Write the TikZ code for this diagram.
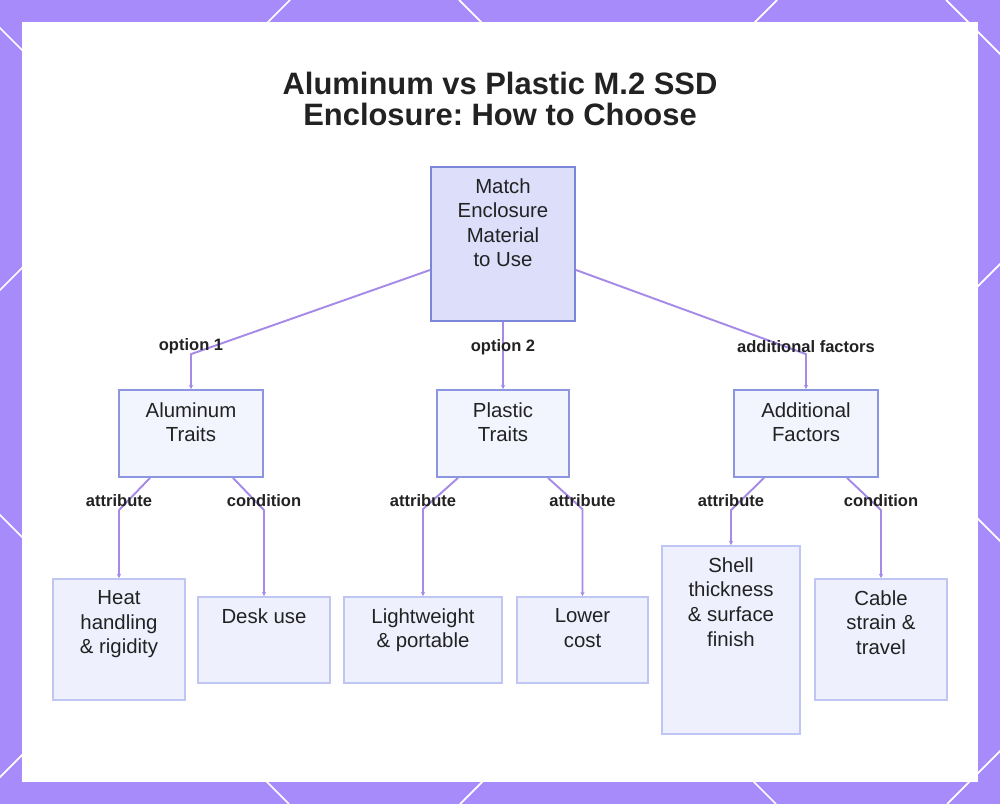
\documentclass[tikz,border=0pt]{standalone}
\usepackage{fontspec}
\setmainfont{Liberation Sans}
\usetikzlibrary{arrows.meta, positioning}
\frenchspacing

\definecolor{frame}{HTML}{A78BFA}
\definecolor{wire}{HTML}{A58AE8}
\definecolor{ink}{HTML}{222222}
\definecolor{topfill}{HTML}{DCDEFA}
\definecolor{topline}{HTML}{7C86D8}
\definecolor{midfill}{HTML}{F3F5FE}
\definecolor{midline}{HTML}{8C96E0}
\definecolor{leaffill}{HTML}{EEF1FD}
\definecolor{leafline}{HTML}{BFC6F3}

\begin{document}
\begin{tikzpicture}[
    x=0.02cm, y=-0.02cm,
    topic/.style={draw=topline, fill=topfill, line width=1.1pt, inner sep=0pt},
    group/.style={draw=midline, fill=midfill, line width=1pt, inner sep=0pt},
    item/.style={draw=leafline, fill=leaffill, line width=1pt, inner sep=0pt},
    txt/.style={align=center, inner sep=0pt, anchor=north, text=ink,
                font=\fontsize{11.6}{14}\selectfont},
    tag/.style={font=\bfseries\fontsize{9.4}{11}\selectfont, text=ink, inner sep=0pt},
    link/.style={draw=wire, line width=1.1pt, -{Stealth[length=2.5pt,width=2.5pt]}},
    grid/.style={draw=white, line width=1pt},
    >=Stealth
  ]
    % frame and panel
    \fill[frame] (0,0) rectangle (1000,804);
    \begin{scope}
      \clip (0,0) rectangle (1000,804);
      \foreach \c in {290,777,1264,1751} \draw[grid] (\c,0) -- (\c-804,804);
      \foreach \c in {-515,-28,459,946} \draw[grid] (\c,0) -- (\c+804,804);
    \end{scope}
    \fill[white] (22,22) rectangle (978,782);

    \node[font=\bfseries\fontsize{17.6}{17.6}\selectfont, text=ink, align=center] (title) at (500,99)
      {Aluminum vs Plastic M.2 SSD\\Enclosure: How to Choose};

    % boxes
    \node[topic, minimum width=2.88cm, minimum height=3.08cm] (root) at (503,244) {};
    \node[group, minimum width=2.88cm, minimum height=1.74cm] (alu) at (191,433.5) {};
    \node[group, minimum width=2.64cm, minimum height=1.74cm] (pla) at (503,433.5) {};
    \node[group, minimum width=2.88cm, minimum height=1.74cm] (add) at (806,433.5) {};
    \node[item, minimum width=2.64cm, minimum height=2.42cm] (heat) at (119,639.5) {};
    \node[item, minimum width=2.64cm, minimum height=1.72cm] (desk) at (264,640) {};
    \node[item, minimum width=3.16cm, minimum height=1.72cm] (light) at (423,640) {};
    \node[item, minimum width=2.62cm, minimum height=1.72cm] (lower) at (582.5,640) {};
    \node[item, minimum width=2.76cm, minimum height=3.76cm] (shell) at (731,640) {};
    \node[item, minimum width=2.64cm, minimum height=2.42cm] (cable) at (881,639.5) {};

    % texts
    \node[txt] (root-t) at ([yshift=-0.24cm]root.north) {Match\\Enclosure\\Material\\to Use};
    \node[txt] (alu-t) at ([yshift=-0.26cm]alu.north) {Aluminum\\Traits};
    \node[txt] (pla-t) at ([yshift=-0.26cm]pla.north) {Plastic\\Traits};
    \node[txt] (add-t) at ([yshift=-0.26cm]add.north) {Additional\\Factors};
    \node[txt] (heat-t) at ([yshift=-0.24cm]heat.north) {Heat\\handling\\\& rigidity};
    \node[txt] (desk-t) at ([yshift=-0.24cm]desk.north) {Desk use};
    \node[txt] (light-t) at ([yshift=-0.24cm]light.north) {Lightweight\\\& portable};
    \node[txt] (lower-t) at ([yshift=-0.24cm]lower.north) {Lower\\cost};
    \node[txt] (shell-t) at ([yshift=-0.24cm]shell.north) {Shell\\thickness\\\& surface\\finish};
    \node[txt] (cable-t) at ([yshift=-0.24cm]cable.north) {Cable\\strain \&\\travel};

    % first level
    \draw[link] ([yshift=-0.52cm]root.west) -- ([yshift=0.7cm]alu.north)
      node[tag, yshift=0.16cm] {option 1} -- (alu.north);
    \draw[link] (root.south) -- node[tag, pos=0.38] {option 2} (pla.north);
    \draw[link] ([yshift=-0.52cm]root.east) -- ([yshift=0.7cm]add.north)
      node[tag, yshift=0.16cm] {additional factors} -- (add.north);

    % second level
    \draw[link] ([xshift=-0.82cm]alu.south) -- ([yshift=1.36cm]heat.north)
      node[tag, yshift=0.2cm] {attribute} -- (heat.north);
    \draw[link] ([xshift=0.84cm]alu.south) -- ([yshift=1.72cm]desk.north)
      node[tag, yshift=0.2cm] {condition} -- (desk.north);
    \draw[link] ([xshift=-0.9cm]pla.south) -- ([yshift=1.74cm]light.north)
      node[tag, yshift=0.18cm] {attribute} -- (light.north);
    \draw[link] ([xshift=0.9cm]pla.south) -- ([yshift=1.74cm]lower.north)
      node[tag, yshift=0.18cm] {attribute} -- (lower.north);
    \draw[link] ([xshift=-0.84cm]add.south) -- ([yshift=0.7cm]shell.north)
      node[tag, yshift=0.2cm] {attribute} -- (shell.north);
    \draw[link] ([xshift=0.82cm]add.south) -- ([yshift=1.36cm]cable.north)
      node[tag, yshift=0.2cm] {condition} -- (cable.north);
  \end{tikzpicture}
\end{document}
